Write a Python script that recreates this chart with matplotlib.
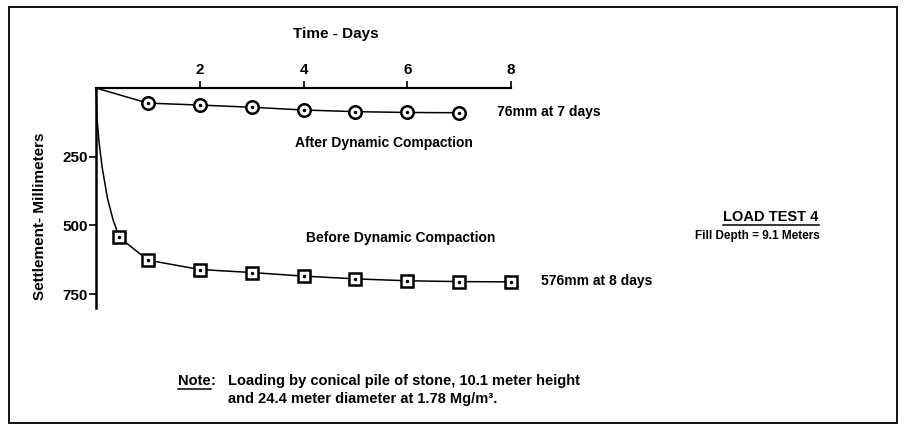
import matplotlib
matplotlib.use("Agg")
import matplotlib.pyplot as plt
from matplotlib.lines import Line2D
from matplotlib.patches import Rectangle

# Load test 4 settlement data
after_days = [1, 2, 3, 4, 5, 6, 7]
after_mm = [55, 62, 70, 80, 86, 89, 90]

before_days = [0.45, 1, 2, 3, 4, 5, 6, 7, 8]
before_mm = [543, 626, 660, 671, 684, 694, 701, 704, 705]

# steep early part of the "before" curve (no markers on it)
before_curve_days = [0, 0.02, 0.06, 0.12, 0.22, 0.33]
before_curve_mm = [0, 110, 200, 290, 400, 480]

x_ticks = [2, 4, 6, 8]
y_ticks = [250, 500, 750]

W, H = 908, 432
plt.rcParams["font.family"] = ["Liberation Sans", "DejaVu Sans"]
plt.rcParams["font.weight"] = "bold"


def fp(x, y):
    # pixel position (from top-left) -> figure fraction
    return x / W, 1 - y / H


fig = plt.figure(figsize=(W / 100, H / 100), dpi=100)
fig.patch.set_facecolor("white")

# outer frame of the scanned page
fig.add_artist(Rectangle(fp(9, 423), (897 - 9) / W, (423 - 7) / H, fill=False,
                         lw=1.3, ec="black", transform=fig.transFigure))

left, right, top, bottom = 96, 511, 88, 308
ax = fig.add_axes([left / W, 1 - bottom / H, (right - left) / W, (bottom - top) / H])
ax.set_xlim(0, 8)
ax.set_ylim(800, 0)

for s in ("right", "bottom"):
    ax.spines[s].set_visible(False)
ax.spines["top"].set_linewidth(1.6)
ax.spines["left"].set_linewidth(1.8)

ax.xaxis.tick_top()
ax.set_xticks(x_ticks)
ax.set_yticks(y_ticks)
ax.tick_params(axis="x", direction="out", length=5, width=1.2, pad=3, labelsize=11)
ax.tick_params(axis="y", direction="out", length=5, width=1.2, pad=1, labelsize=11)

# after dynamic compaction
ax.plot([0] + after_days, [0] + after_mm, color="black", lw=1.1, zorder=2, clip_on=False)
ax.plot(after_days, after_mm, ls="none", marker="o", ms=9, mfc="white", mec="black",
        mew=1.8, zorder=3, clip_on=False)
ax.plot(after_days, after_mm, ls="none", marker=".", ms=3, color="black", zorder=4,
        clip_on=False)

# before dynamic compaction
ax.plot(before_curve_days + before_days, before_curve_mm + before_mm, color="black",
        lw=1.1, zorder=2, clip_on=False)
ax.plot(before_days, before_mm, ls="none", marker="s", ms=8, mfc="white", mec="black",
        mew=1.8, zorder=3, clip_on=False)
ax.plot(before_days, before_mm, ls="none", marker=".", ms=3, color="black", zorder=4,
        clip_on=False)

fig.text(*fp(336, 34), "Time - Days", ha="center", va="center", fontsize=11)
fig.text(*fp(40, 216), "Settlement- Millimeters", ha="center", va="center",
         rotation=90, fontsize=11)

fig.text(*fp(497, 112), "76mm at 7 days", ha="left", va="center", fontsize=10)
fig.text(*fp(295, 143), "After Dynamic Compaction", ha="left", va="center", fontsize=10)
fig.text(*fp(306, 238), "Before Dynamic Compaction", ha="left", va="center", fontsize=10)
fig.text(*fp(541, 281), "576mm at 8 days", ha="left", va="center", fontsize=10)

load = fig.text(*fp(771, 217), "LOAD TEST 4", ha="center", va="center", fontsize=10.5)
fig.text(*fp(757, 236), "Fill Depth = 9.1 Meters", ha="center", va="center", fontsize=8.5)

note = fig.text(*fp(178, 381), "Note", ha="left", va="center", fontsize=10.5)
fig.text(*fp(228, 381), "Loading by conical pile of stone, 10.1 meter height",
         ha="left", va="center", fontsize=10.5)
fig.text(*fp(228, 399), "and 24.4 meter diameter at 1.78 Mg/m\u00b3.",
         ha="left", va="center", fontsize=10.5)

# underline the heading and "Note", colon sits right after "Note"
fig.canvas.draw()
renderer = fig.canvas.get_renderer()
for t in (load, note):
    bb = t.get_window_extent(renderer)
    y = (bb.y0 - 1) / H
    fig.add_artist(Line2D([bb.x0 / W, bb.x1 / W], [y, y], color="black", lw=1.1,
                          transform=fig.transFigure))
nb = note.get_window_extent(renderer)
fig.text(nb.x1 / W, 1 - 381 / H, ":", ha="left", va="center", fontsize=10.5)

fig.savefig("out.png", dpi=100, facecolor="white")
